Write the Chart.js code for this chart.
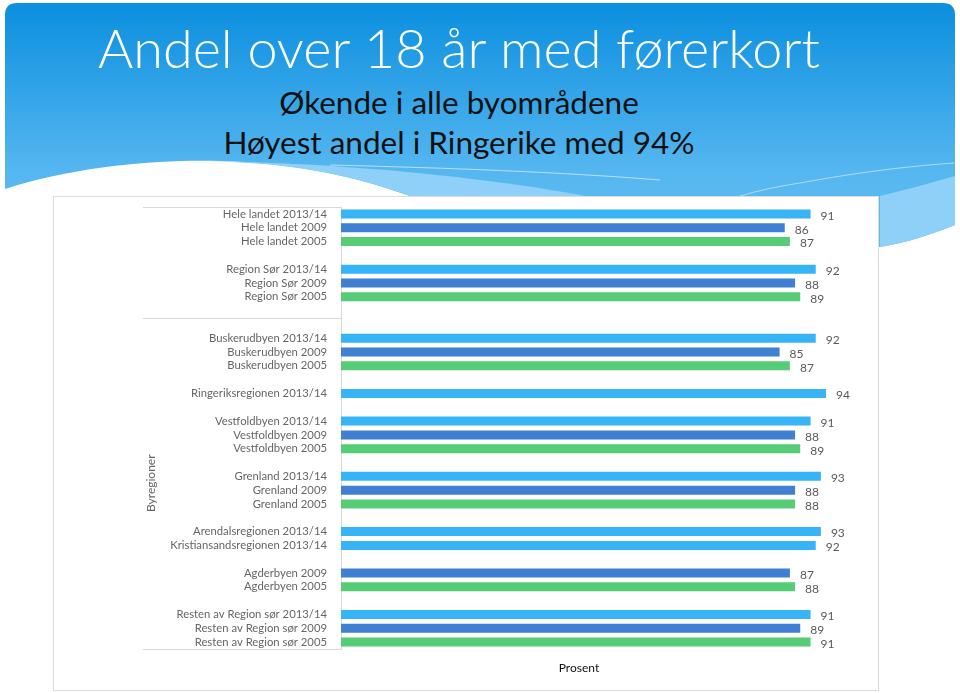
<!DOCTYPE html>
<html>
<head>
<meta charset="utf-8">
<script src="https://cdn.jsdelivr.net/npm/chart.js@4.4.0/dist/chart.umd.min.js"></script>
<style>
  html, body { margin: 0; padding: 0; background: #fff; }
  #page { position: relative; width: 960px; height: 693px; overflow: hidden; font-family: Lato, "Open Sans", sans-serif; }
  #bg { position: absolute; left: 0; top: 0; }
  .t { position: absolute; left: 0; width: 918px; text-align: center; white-space: nowrap; line-height: 1; }
  #title { top: 21px; font-size: 54px; font-weight: 300; color: #fff; }
  #sub1 { top: 87px; font-size: 31.5px; color: #111; }
  #sub2 { top: 127px; font-size: 31.5px; color: #111; }
  #box { position: absolute; left: 53px; top: 196px; width: 826px; height: 495px; background: #fff; border: 1px solid #dcdcdc; box-sizing: border-box; }
  #box canvas { position: absolute; left: 0; top: 0; }
</style>
</head>
<body>
<div id="page">
  <svg id="bg" width="960" height="693">
    <defs>
      <linearGradient id="g" gradientUnits="userSpaceOnUse" x1="0" y1="3" x2="0" y2="230">
        <stop offset="0" stop-color="#0b8fdf"/>
        <stop offset="0.75" stop-color="#56b7f0"/>
        <stop offset="1" stop-color="#5dbbf1"/>
      </linearGradient>
    </defs>
    <path d="M5,15 Q5,3 17,3 L943,3 Q955,3 955,15 L955,225 C930,235 905,243 880,247 L410,210 L410,196 C360,178 300,163 220,161 C150,159 70,168 5,189 Z" fill="url(#g)"/>
    <path d="M205,161 C300,163 360,178 410,196 L585,196 C500,180 360,163 205,161 Z" fill="#8ed0f7"/>
    <path d="M880,196 C905,190 930,183 955,176 L955,225 C930,235 905,243 880,247 Z" fill="#8ed0f7"/>
    <path d="M330,165 C450,168 560,172 660,180" stroke="#cfeafc" stroke-width="1" fill="none" opacity="0.8"/>
    <path d="M740,196 C760,190 780,186 800,183 C860,172 910,166 955,163" stroke="#cfeafc" stroke-width="1" fill="none" opacity="0.7"/>
  </svg>
  <div class="t" id="title">Andel over 18 år med førerkort</div>
  <div class="t" id="sub1">Økende i alle byområdene</div>
  <div class="t" id="sub2">Høyest andel i Ringerike med 94%</div>
  <div id="box"><canvas id="myChart" width="826" height="495"></canvas></div>
</div>
<script>
var categories = [
  "Hele landet 2013/14", "Hele landet 2009", "Hele landet 2005", "",
  "Region Sør 2013/14", "Region Sør 2009", "Region Sør 2005", "", "",
  "Buskerudbyen 2013/14", "Buskerudbyen 2009", "Buskerudbyen 2005", "",
  "Ringeriksregionen 2013/14", "",
  "Vestfoldbyen 2013/14", "Vestfoldbyen 2009", "Vestfoldbyen 2005", "",
  "Grenland 2013/14", "Grenland 2009", "Grenland 2005", "",
  "Arendalsregionen 2013/14", "Kristiansandsregionen 2013/14", "",
  "Agderbyen 2009", "Agderbyen 2005", "",
  "Resten av Region sør 2013/14", "Resten av Region sør 2009", "Resten av Region sør 2005"
];
var values = [
  91, 86, 87, null,
  92, 88, 89, null, null,
  92, 85, 87, null,
  94, null,
  91, 88, 89, null,
  93, 88, 88, null,
  93, 92, null,
  87, 88, null,
  91, 89, 91
];
// outer category groups: first/last row index
var groupNames = ["", "Byregioner"];
var groupStart = [0, 8];
var groupEnd = [7, 31];

var periodColors = { "2013/14": "#36b4f6", "2009": "#3f80d2", "2005": "#57cc76" };

function barColor(i) {
  var parts = categories[i].split(" ");
  return periodColors[parts[parts.length - 1]] || "#ccc";
}

var decor = {
  id: "decor",
  afterDatasetsDraw: function (chart) {
    var ctx = chart.ctx;
    var meta = chart.getDatasetMeta(0);
    ctx.save();
    ctx.font = "12px Lato";
    ctx.fillStyle = "#595959";
    ctx.textAlign = "left";
    ctx.textBaseline = "middle";
    meta.data.forEach(function (bar, i) {
      if (values[i] == null) return;
      ctx.fillText(values[i], bar.x + 10, bar.y + 2);
    });
    ctx.restore();
  },
  afterDraw: function (chart) {
    var ctx = chart.ctx;
    var a = chart.chartArea;
    var y = chart.scales.y;
    ctx.save();
    ctx.strokeStyle = "#d9d9d9";
    ctx.lineWidth = 1;
    var edges = [groupStart[0] - 0.5];
    groupEnd.forEach(function (e) { edges.push(e + 0.5); });
    edges.forEach(function (v) {
      var py = Math.round(y.getPixelForValue(v)) + 0.5;
      ctx.beginPath();
      ctx.moveTo(89, py);
      ctx.lineTo(a.left, py);
      ctx.stroke();
    });
    ctx.font = "12px Lato";
    ctx.fillStyle = "#666";
    ctx.textAlign = "center";
    ctx.textBaseline = "middle";
    groupNames.forEach(function (name, k) {
      if (!name) return;
      var cy = y.getPixelForValue((groupStart[k] + groupEnd[k]) / 2);
      ctx.save();
      ctx.translate(97, cy);
      ctx.rotate(-Math.PI / 2);
      ctx.fillText(name, 0, 0);
      ctx.restore();
    });
    ctx.fillStyle = "#111";
    ctx.font = "12px Lato";
    ctx.fillText("Prosent", 525, 471);
    ctx.restore();
  }
};

var ctx = document.getElementById("myChart").getContext("2d");
var myChart = new Chart(ctx, {
  type: "bar",
  data: {
    labels: categories,
    datasets: [
      {
        data: values,
        backgroundColor: function (c) { return barColor(c.dataIndex); },
        barPercentage: 0.65,
        categoryPercentage: 1,
      },
    ],
  },
  options: {
    indexAxis: "y",
    responsive: false,
    animation: false,
    layout: { padding: { top: 10, right: 23, bottom: 43, left: 0 } },
    scales: {
      x: {
        display: false,
        min: 0,
        max: 100,
      },
      y: {
        afterFit: function (s) {
          s.width = 287;
          s.paddingTop = 0;
          s.paddingBottom = 0;
        },
        grid: { display: false },
        border: { display: true, color: "#d9d9d9" },
        ticks: {
          autoSkip: false,
          padding: 6,
          color: "#666",
          font: { family: "Lato", size: 11.3 },
        },
      },
    },
    plugins: {
      legend: { display: false },
      tooltip: { enabled: false },
    },
  },
  plugins: [decor],
});
</script>
</body>
</html>
